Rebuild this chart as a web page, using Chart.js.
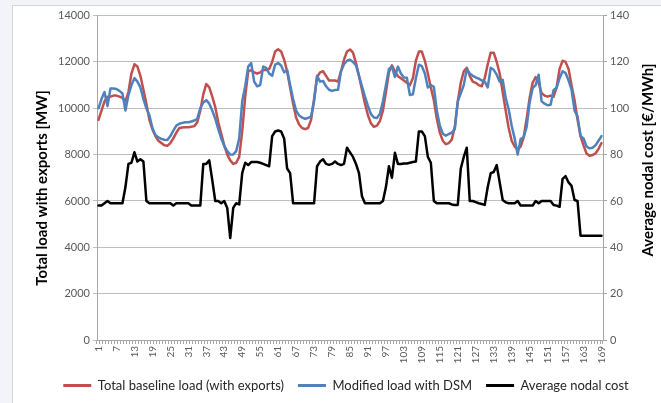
<!DOCTYPE html>
<html>
<head>
<meta charset="utf-8">
<script src="https://cdn.jsdelivr.net/npm/chart.js@4.4.0/dist/chart.umd.min.js"></script>
<style>
  html, body { margin: 0; padding: 0; background: #f2f4f9; overflow: hidden; }
  #frame { position: absolute; left: 12px; top: 5px; width: 660px; height: 410px; background: #fff; border: 1px solid #d4d4d4; }
  #wrap { position: absolute; left: 0; top: 0; width: 649px; height: 398px; }
</style>
</head>
<body>
<div id="frame"><div id="wrap"><canvas id="chart"></canvas></div></div>
<script>
// ---------- data (hourly, one week + 1h) ----------
const hours = Array.from({ length: 169 }, (_, i) => String(i + 1));

const baselineLoad = [
  9500, 9900, 10300, 10500, 10500, 10550, 10550, 10500, 10450, 10300, 10700, 11500,
  11900, 11800, 11400, 10800, 10200, 9500, 9100, 8800, 8600, 8500, 8400, 8380,
  8500, 8700, 8950, 9150, 9170, 9180, 9180, 9200, 9230, 9400, 9900, 10600,
  11050, 10900, 10500, 10050, 9400, 8900, 8400, 8000, 7750, 7600, 7650, 7900,
  9000, 10500, 11600, 11650, 11550, 11500, 11550, 11650, 11650, 11700, 12000, 12450,
  12550, 12450, 12100, 11600, 10900, 10200, 9600, 9300, 9150, 9100, 9150, 9500,
  10400, 11350, 11550, 11600, 11400, 11200, 11200, 11200, 11150, 11600, 12100, 12450,
  12540, 12400, 11950, 11400, 10800, 10200, 9700, 9350, 9200, 9250, 9450, 9900,
  10700, 11550, 11850, 11600, 11380, 11300, 11200, 11100, 11000, 11300, 12050, 12450,
  12450, 12050, 11500, 10900, 10350, 9550, 8950, 8600, 8450, 8500, 8650, 9200,
  10300, 11100, 11600, 11750, 11400, 11150, 11100, 11000, 10950, 11300, 11900, 12400,
  12400, 12000, 11500, 10700, 9900, 9150, 8600, 8350, 8230, 8350, 8750, 9550,
  10450, 11100, 11350, 11100, 10650, 10550, 10500, 10550, 10500, 10900, 11700, 12050,
  12000, 11700, 11000, 10350, 9500, 8800, 8400, 8050, 7950, 7980, 8050, 8250,
  8500
];

const dsmLoad = [
  10000, 10400, 10700, 10100, 10850, 10850, 10830, 10750, 10640, 9900, 10570, 11000,
  11300, 11150, 10900, 10400, 10000, 9700, 9150, 8850, 8740, 8680, 8640, 8630,
  8800, 9040, 9250, 9330, 9370, 9400, 9400, 9430, 9470, 9550, 10000, 10250,
  10350, 10200, 9900, 9550, 9100, 8700, 8380, 8150, 8000, 8010, 8150, 8700,
  10300, 10950, 11800, 11950, 11150, 10950, 11000, 11800, 11740, 11500, 11400, 11880,
  11950, 11850, 11550, 11650, 11000, 10400, 9900, 9690, 9600, 9550, 9580, 9650,
  10300, 11400, 11150, 11180, 10950, 10800, 10750, 10790, 10800, 11600, 11900, 12050,
  12100, 12000, 11850, 11400, 10950, 10500, 10100, 9750, 9600, 9580, 9770, 10300,
  11000, 11700, 11800, 11350, 11800, 11500, 11330, 11320, 10570, 10600, 11300, 11880,
  11820, 11500, 10900, 11000, 10930, 9900, 9250, 8900, 8820, 8890, 8950, 9100,
  10300, 10650, 11000, 11700, 11500, 11400, 11330, 11280, 11200, 11150, 10900, 11750,
  11660, 11450, 11150, 11230, 10450, 9950, 9250, 8700, 8000, 8670, 8750, 9200,
  10250, 10870, 11000, 11450, 10300, 10200, 10130, 10150, 10790, 10880, 11300, 11600,
  11520, 11200, 10800, 9900, 9650, 8800, 8700, 8350, 8270, 8300, 8400, 8600,
  8800
];

const nodalCost = [
  58, 58, 59, 60, 59, 59, 59, 59, 59, 66, 76, 76.5,
  81, 77, 78, 77, 60, 59, 59, 59, 59, 59, 59, 59,
  59, 58, 59, 59, 59, 59, 59, 58, 58, 58, 58, 76,
  76, 77.5, 69, 60, 60, 59, 60, 57, 44, 57, 59, 58.5,
  72, 76.5, 75.5, 76.8, 76.8, 76.8, 76.5, 76, 75.5, 75, 88, 90,
  90.4, 90, 87, 74, 72, 59, 59, 59, 59, 59, 59, 59,
  59, 75, 77, 78, 76, 75.6, 76, 77, 76, 75.5, 76, 83,
  81, 79, 76, 72, 62, 59, 59, 59, 59, 59, 59, 60,
  66, 75, 70, 80.8, 76, 76, 76.2, 76.2, 76.5, 76.8, 77, 90,
  90, 88, 79, 76.5, 60, 59, 59, 59, 59, 59, 58.5, 58.3,
  58.3, 74, 79, 83, 60, 60, 59.5, 59, 58.7, 58.3, 66, 72,
  72.5, 75.5, 68, 60.4, 59.4, 59, 59, 59, 60, 58, 58, 58,
  58, 58, 60, 59, 60, 60, 60, 60, 58.3, 58, 57.5, 69.5,
  70.7, 68, 66.5, 60.4, 60, 45, 45, 45, 45, 45, 45, 45,
  45
];

const seriesNames = ['Total baseline load (with exports)', 'Modified load with DSM', 'Average nodal cost'];
const leftTitle = 'Total load with exports [MW]';
const rightTitle = 'Average nodal cost [€/MWh]';

const FONT = 'Lato, "Open Sans", sans-serif';
const TICK_COLOR = '#595959';
const AXIS_COLOR = '#a6a6a6';

// axis titles drawn by hand: Excel reads both of them bottom-to-top
const axisTitles = {
  id: 'axisTitles',
  afterDraw(chart) {
    const ctx = chart.ctx;
    ctx.save();
    ctx.font = 'bold 15px ' + FONT;
    ctx.fillStyle = '#000';
    ctx.textAlign = 'center';
    ctx.textBaseline = 'middle';
    [[leftTitle, 29, 182], [rightTitle, 635, 154]].forEach(([txt, x, y]) => {
      ctx.save();
      ctx.translate(x, y);
      ctx.rotate(-Math.PI / 2);
      ctx.fillText(txt, 0, 0);
      ctx.restore();
    });
    ctx.restore();
  }
};

new Chart(document.getElementById('chart'), {
  type: 'line',
  data: {
    labels: hours,
    datasets: [
      { label: seriesNames[0], data: baselineLoad, borderColor: '#c0504d', backgroundColor: '#c0504d', yAxisID: 'y', order: 3 },
      { label: seriesNames[1], data: dsmLoad, borderColor: '#4f81bd', backgroundColor: '#4f81bd', yAxisID: 'y', order: 2 },
      { label: seriesNames[2], data: nodalCost, borderColor: '#000000', backgroundColor: '#000000', yAxisID: 'y1', order: 1 }
    ]
  },
  options: {
    responsive: true,
    maintainAspectRatio: false,
    animation: false,
    devicePixelRatio: 1,
    elements: {
      line: { borderWidth: 2.5, tension: 0, borderJoinStyle: 'round', borderCapStyle: 'round' },
      point: { radius: 0 }
    },
    layout: { padding: { top: 9, left: 17, right: 0, bottom: 2 } },
    plugins: {
      tooltip: { enabled: false },
      legend: {
        position: 'bottom',
        labels: {
          boxWidth: 28,
          boxHeight: 3,
          padding: 14,
          color: '#262626',
          font: { family: FONT, size: 13 },
          sort: (a, b) => a.datasetIndex - b.datasetIndex,
          generateLabels(chart) {
            return Chart.defaults.plugins.legend.labels.generateLabels(chart).map(l => {
              l.lineWidth = 0;
              return l;
            });
          }
        }
      }
    },
    scales: {
      x: {
        type: 'category',
        offset: true,
        grid: { drawOnChartArea: false, drawTicks: true, tickLength: 4, color: AXIS_COLOR, offset: true },
        border: { color: AXIS_COLOR },
        ticks: {
          autoSkip: false,
          maxRotation: 90,
          minRotation: 90,
          padding: 2,
          color: TICK_COLOR,
          font: { family: FONT, size: 10 },
          callback: (v, i) => (i % 6 === 0 ? hours[i] : '')
        },
        afterFit(scale) { scale.height = 25; }
      },
      y: {
        position: 'left',
        min: 0,
        max: 14000,
        ticks: { stepSize: 2000, color: TICK_COLOR, font: { family: FONT, size: 11 }, padding: 3, callback: v => String(v) },
        grid: { color: '#bfbfbf', tickLength: 4 },
        border: { color: AXIS_COLOR },
        afterFit(scale) { scale.width = 67; }
      },
      y1: {
        position: 'right',
        min: 0,
        max: 140,
        ticks: { stepSize: 20, color: TICK_COLOR, font: { family: FONT, size: 11 }, padding: 3, callback: v => String(v) },
        grid: { drawOnChartArea: false, color: AXIS_COLOR, tickLength: 4 },
        border: { color: AXIS_COLOR },
        afterFit(scale) { scale.width = 59; }
      }
    }
  },
  plugins: [axisTitles]
});
</script>
</body>
</html>
